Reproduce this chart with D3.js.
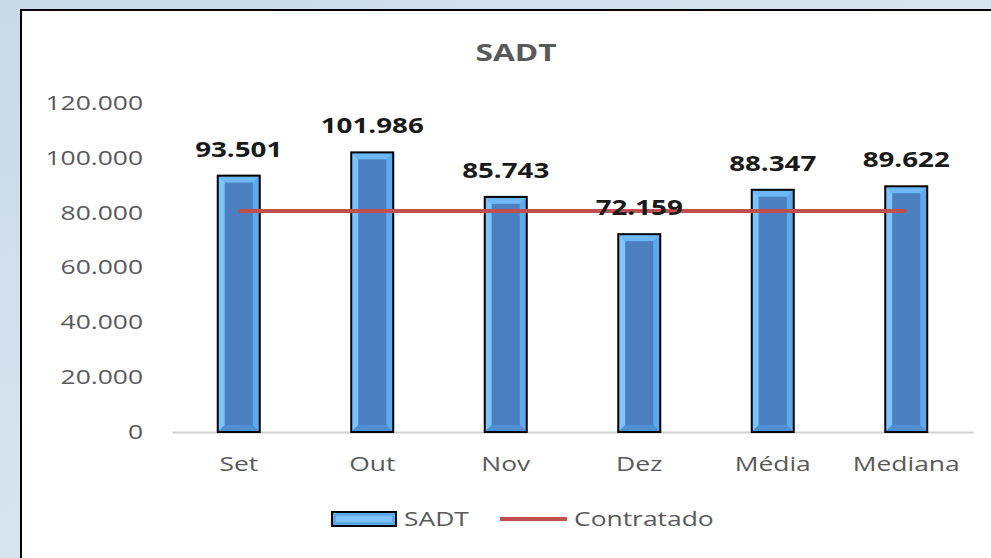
<!DOCTYPE html>
<html>
<head>
<meta charset="utf-8">
<script src="https://cdn.jsdelivr.net/npm/d3@7"></script>
<style>
  body { margin: 0; overflow: hidden; }
  svg { display: block; }
</style>
</head>
<body>
<div id="chart"></div>
<script>
// chart data
const categories = ["Set", "Out", "Nov", "Dez", "Média", "Mediana"];
const sadt = [93501, 101986, 85743, 72159, 88347, 89622];
const contratado = [80600, 80600, 80600, 80600, 80600, 80600];
const yTicks = [0, 20000, 40000, 60000, 80000, 100000, 120000];

const width = 991, height = 558;
const margin = { top: 103, right: 18, bottom: 126, left: 172 };
const stretch = 1.32; // the source picture's text is wider than usual

const fmt = v => d3.format(",")(v).replace(/,/g, ".");

const svg = d3.select("#chart").append("svg")
    .attr("width", width)
    .attr("height", height);

// backdrop
const defs = svg.append("defs");
const bg = defs.append("linearGradient").attr("id", "bg").attr("x1", 0).attr("y1", 0).attr("x2", 1).attr("y2", 1);
bg.append("stop").attr("offset", "0%").attr("stop-color", "#c9d9e8");
bg.append("stop").attr("offset", "100%").attr("stop-color", "#e6eff7");
svg.append("rect").attr("width", width).attr("height", height).attr("fill", "url(#bg)");

// chart box
svg.append("rect")
    .attr("x", 21).attr("y", 10)
    .attr("width", width + 20).attr("height", height)
    .attr("fill", "#ffffff")
    .attr("stroke", "#000").attr("stroke-width", 2);

svg.append("text")
    .attr("x", 516).attr("y", 61)
    .attr("text-anchor", "middle")
    .attr("font-family", "Open Sans, sans-serif")
    .attr("font-weight", "bold")
    .attr("font-size", 24)
    .attr("fill", "#595959")
    .text("SADT");

const x = d3.scaleBand()
    .domain(categories)
    .range([margin.left, width - margin.right]);

const y = d3.scaleLinear()
    .domain([0, 120000])
    .range([height - margin.bottom, margin.top]);

// y axis labels
svg.append("g")
    .attr("transform", `translate(${margin.left - 29},0)`)
    .call(d3.axisLeft(y).tickValues(yTicks).tickFormat(fmt).tickSize(0).tickPadding(0))
    .call(g => g.select(".domain").remove())
    .call(g => g.selectAll("text")
        .attr("font-family", "Open Sans, sans-serif")
        .attr("font-size", 20)
        .attr("fill", "#595959"));

// x axis
svg.append("g")
    .attr("transform", `translate(0,${y(0)})`)
    .call(d3.axisBottom(x).tickSize(0).tickPadding(25))
    .call(g => g.select(".domain").attr("stroke", "#d0d0d0").attr("stroke-width", 2))
    .call(g => g.selectAll("text")
        .attr("font-family", "Open Sans, sans-serif")
        .attr("font-size", 20)
        .attr("fill", "#595959"));

// beveled bars
const bw = 42, bev = 7;
const bars = svg.selectAll(".bar")
    .data(sadt)
    .enter().append("g")
    .attr("class", "bar");

bars.each(function(d, i) {
    const g = d3.select(this);
    const x0 = x(categories[i]) + x.bandwidth() / 2 - bw / 2;
    const x1 = x0 + bw;
    const y0 = y(d), y1 = y(0);
    g.append("rect").attr("x", x0).attr("y", y0).attr("width", bw).attr("height", y1 - y0).attr("fill", "#5ea8ee");
    g.append("polygon")
        .attr("points", [[x0, y0], [x0 + bev, y0 + bev], [x0 + bev, y1 - bev], [x0, y1]].join(" "))
        .attr("fill", "#7cc4fb");
    g.append("polygon")
        .attr("points", [[x0, y0], [x1, y0], [x1 - bev, y0 + bev], [x0 + bev, y0 + bev]].join(" "))
        .attr("fill", "#6db8f6");
    g.append("polygon")
        .attr("points", [[x0, y1], [x1, y1], [x1 - bev, y1 - bev], [x0 + bev, y1 - bev]].join(" "))
        .attr("fill", "#4f8fd3");
    g.append("rect")
        .attr("x", x0 + bev).attr("y", y0 + bev)
        .attr("width", bw - 2 * bev).attr("height", Math.max(0, y1 - y0 - 2 * bev))
        .attr("fill", "#4a80bf");
    g.append("rect").attr("x", x0).attr("y", y0).attr("width", bw).attr("height", y1 - y0)
        .attr("fill", "none").attr("stroke", "#000").attr("stroke-width", 2);
});

// contracted line
const line = d3.line()
    .x((d, i) => x(categories[i]) + x.bandwidth() / 2)
    .y(d => y(d));

svg.append("path")
    .datum(contratado)
    .attr("d", line)
    .attr("fill", "none")
    .attr("stroke", "#c0504d")
    .attr("stroke-width", 4);

// value labels
svg.selectAll(".val")
    .data(sadt)
    .enter().append("text")
    .attr("class", "val")
    .attr("x", (d, i) => x(categories[i]) + x.bandwidth() / 2)
    .attr("y", d => y(d) - 19)
    .attr("text-anchor", "middle")
    .attr("font-family", "Open Sans, sans-serif")
    .attr("font-weight", "bold")
    .attr("font-size", 21)
    .attr("fill", "#1a1a1a")
    .text(fmt);

// legend
const lg = svg.append("g").attr("transform", "translate(0,519)");
lg.append("rect").attr("x", 332).attr("y", -7).attr("width", 64).attr("height", 14)
    .attr("fill", "#5ea8ee").attr("stroke", "#000").attr("stroke-width", 2);
lg.append("rect").attr("x", 336).attr("y", -3).attr("width", 56).attr("height", 6).attr("fill", "#7cc4fb");
lg.append("text").attr("x", 404).attr("y", 7)
    .attr("font-family", "Open Sans, sans-serif").attr("font-size", 20).attr("fill", "#595959")
    .text("SADT");
lg.append("line").attr("x1", 500).attr("x2", 567).attr("y1", 0).attr("y2", 0)
    .attr("stroke", "#c0504d").attr("stroke-width", 4);
lg.append("text").attr("x", 574).attr("y", 7)
    .attr("font-family", "Open Sans, sans-serif").attr("font-size", 20).attr("fill", "#595959")
    .text("Contratado");

// widen all text to match the picture
svg.selectAll("text").each(function() {
    const len = this.getComputedTextLength();
    d3.select(this)
        .attr("textLength", len * stretch)
        .attr("lengthAdjust", "spacingAndGlyphs");
});
</script>
</body>
</html>
